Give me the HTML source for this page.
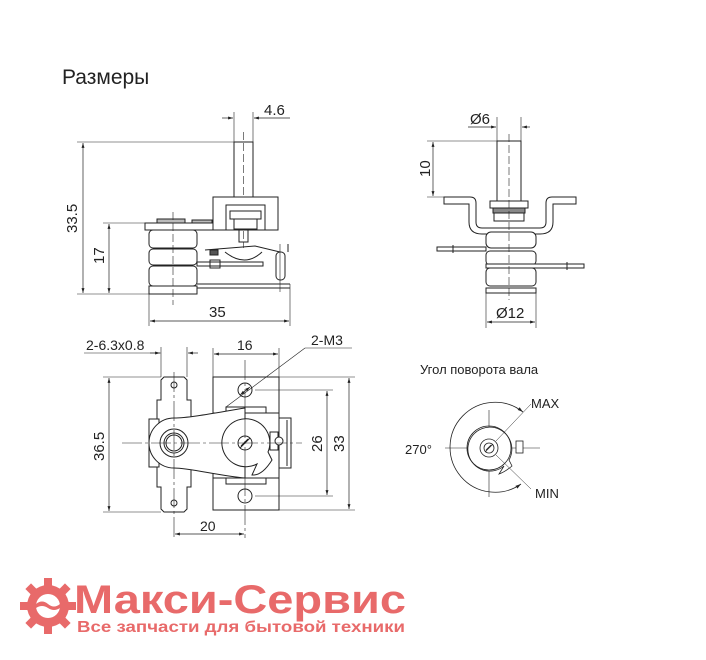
<!DOCTYPE html>
<html><head><meta charset="utf-8"><style>
body{margin:0;background:#fff;width:706px;height:660px;overflow:hidden}
svg{display:block}
text{font-family:"Liberation Sans",Arial,sans-serif;fill:#222}
</style></head><body>
<svg width="706" height="660" viewBox="0 0 706 660" xmlns="http://www.w3.org/2000/svg">
<defs>
<marker id="a" viewBox="0 0 10 10" refX="10" refY="5" markerWidth="7" markerHeight="7" orient="auto-start-reverse"><path d="M0,2L10,5L0,8z" fill="#222"/></marker>
</defs>
<text x="62" y="84" font-size="21">Размеры</text>

<!-- TOP LEFT VIEW -->
<g stroke="#222" fill="none" stroke-width="1">
<!-- dims -->
<line x1="77" y1="142" x2="234" y2="142" stroke-width=".6"/>
<line x1="77" y1="294" x2="149" y2="294" stroke-width=".6"/>
<line x1="83" y1="143" x2="83" y2="293" marker-start="url(#a)" marker-end="url(#a)" stroke-width=".7"/>
<line x1="103" y1="223" x2="145" y2="223" stroke-width=".6"/>
<line x1="109" y1="224" x2="109" y2="293" marker-start="url(#a)" marker-end="url(#a)" stroke-width=".7"/>
<line x1="234" y1="112" x2="234" y2="142" stroke-width=".6"/>
<line x1="253" y1="112" x2="253" y2="142" stroke-width=".6"/>
<line x1="222" y1="118" x2="233" y2="118" marker-end="url(#a)" stroke-width=".7"/>
<line x1="290" y1="118" x2="254" y2="118" marker-end="url(#a)" stroke-width=".7"/>
<line x1="149" y1="294" x2="149" y2="326" stroke-width=".6"/>
<line x1="290" y1="284" x2="290" y2="326" stroke-width=".6"/>
<line x1="150" y1="321" x2="289" y2="321" marker-start="url(#a)" marker-end="url(#a)" stroke-width=".7"/>
<!-- shaft -->
<rect x="234" y="142" width="19" height="55" fill="#fff"/>
<line x1="243.5" y1="132" x2="243.5" y2="248" stroke-dasharray="8,3" stroke-width=".6"/>
<!-- bracket -->
<rect x="213" y="197" width="65" height="33" fill="#fff"/>
<rect x="226" y="205" width="39" height="25"/>
<rect x="230" y="211" width="31" height="8"/>
<rect x="234" y="219" width="23" height="10"/>
<rect x="239" y="230" width="9" height="12"/>
<!-- plate -->
<rect x="145" y="223" width="68" height="7" fill="#fff"/>
<rect x="157" y="219" width="28" height="4" fill="#bbb"/>
<rect x="192" y="220" width="20" height="3" fill="#bbb"/>
<!-- coils -->
<rect x="149" y="230" width="48" height="18" rx="4"/>
<rect x="149" y="249" width="48" height="16" rx="4"/>
<rect x="149" y="266" width="48" height="20" rx="4"/>
<rect x="149" y="286" width="48" height="8"/>
<line x1="173" y1="212" x2="173" y2="305" stroke-dasharray="8,3" stroke-width=".6"/>
<!-- internals -->
<rect x="197" y="262" width="66" height="4"/>
<rect x="210" y="260" width="10" height="8"/>
<line x1="197" y1="284" x2="290" y2="284"/>
<line x1="197" y1="288" x2="290" y2="288"/>
<path d="M205,250 L255,246 L280,252"/>
<path d="M225,252 Q245,268 262,252"/>
<rect x="210" y="250" width="8" height="5" fill="#555"/>
<rect x="276" y="252" width="9" height="28" rx="4"/>
<line x1="280" y1="244" x2="280" y2="292" stroke-width=".6"/>
<line x1="288" y1="244" x2="288" y2="252"/>
</g>
<text x="0" y="0" font-size="15" transform="translate(77,233) rotate(-90)">33.5</text>
<text x="0" y="0" font-size="15" transform="translate(104,264) rotate(-90)">17</text>
<text x="264" y="115" font-size="15">4.6</text>
<text x="209" y="317" font-size="15">35</text>

<!-- TOP RIGHT VIEW -->
<g stroke="#222" fill="none" stroke-width="1">
<line x1="497" y1="117" x2="497" y2="141" stroke-width=".6"/>
<line x1="521" y1="117" x2="521" y2="141" stroke-width=".6"/>
<line x1="468" y1="127" x2="496" y2="127" marker-end="url(#a)" stroke-width=".7"/>
<line x1="530" y1="127" x2="522" y2="127" marker-end="url(#a)" stroke-width=".7"/>
<line x1="427" y1="141" x2="497" y2="141" stroke-width=".6"/>
<line x1="427" y1="197" x2="444" y2="197" stroke-width=".6"/>
<line x1="433" y1="142" x2="433" y2="196" marker-start="url(#a)" marker-end="url(#a)" stroke-width=".7"/>
<rect x="497" y="141" width="24" height="60" fill="#fff"/>
<path d="M444,197 H470 Q476,197 476,203 V222 Q476,228 482,228 H540 Q546,228 546,222 V203 Q546,197 552,197 H576 V204 H553 V222 Q553,234 540,234 H482 Q469,234 469,222 V204 H444 Z" fill="#fff"/>
<rect x="490" y="201" width="38" height="7" fill="#fff"/>
<rect x="493" y="208" width="32" height="5" fill="#888"/>
<rect x="494" y="213" width="30" height="8"/>
<rect x="486" y="232" width="50" height="16" rx="5" fill="#fff"/>
<rect x="486" y="251" width="50" height="14" rx="4" fill="#fff"/>
<rect x="486" y="268" width="50" height="18" rx="4" fill="#fff"/>
<rect x="486" y="288" width="50" height="5" fill="#fff"/>
<rect x="437" y="247" width="49" height="4" fill="#fff"/>
<line x1="453" y1="245" x2="453" y2="253"/>
<rect x="486" y="264" width="98" height="4" fill="#fff"/>
<line x1="567" y1="262" x2="567" y2="270"/>
<line x1="509" y1="134" x2="509" y2="300" stroke-dasharray="8,3" stroke-width=".6"/>
<line x1="486" y1="293" x2="486" y2="328" stroke-width=".6"/>
<line x1="536" y1="293" x2="536" y2="328" stroke-width=".6"/>
<line x1="487" y1="322" x2="535" y2="322" marker-start="url(#a)" marker-end="url(#a)" stroke-width=".7"/>
</g>
<text x="470" y="124" font-size="15">Ø6</text>
<text x="0" y="0" font-size="15" transform="translate(430,177) rotate(-90)">10</text>
<text x="496" y="318" font-size="15">Ø12</text>

<!-- BOTTOM LEFT VIEW -->
<g stroke="#222" fill="none" stroke-width="1">
<line x1="84" y1="353" x2="161" y2="353" stroke-width=".6"/>
<line x1="161" y1="347" x2="161" y2="377" stroke-width=".6"/>
<line x1="187" y1="347" x2="187" y2="377" stroke-width=".6"/>
<line x1="150" y1="353" x2="160" y2="353" marker-end="url(#a)" stroke-width=".7"/>
<line x1="198" y1="353" x2="188" y2="353" marker-end="url(#a)" stroke-width=".7"/>
<path d="M164,377 H184 L187,380 V400 H191 V487 H187 V509 L184,512 H164 L161,509 V487 H157 V400 H161 V380 Z" fill="#fff"/>
<rect x="149" y="419" width="10" height="48" fill="#fff"/>
<circle cx="174" cy="385" r="3"/>
<circle cx="174" cy="503" r="3"/>
<rect x="213" y="377" width="66" height="133" fill="#fff"/>
<rect x="226" y="407" width="40" height="6"/>
<rect x="226" y="478" width="40" height="6"/>
<line x1="213" y1="413" x2="279" y2="413"/>
<line x1="213" y1="478" x2="279" y2="478"/>
<rect x="279" y="418" width="12" height="50" fill="#fff"/>
<line x1="287" y1="420" x2="287" y2="466"/>
<circle cx="245" cy="390" r="7" fill="#fff"/>
<circle cx="245" cy="496" r="7" fill="#fff"/>
<path d="M174,418 C190,418 220,412 245,408 L245,478 C220,476 190,468 174,468 A25,25 0 0 1 174,418 Z" fill="#fff"/>
<circle cx="174" cy="443" r="14"/>
<circle cx="174" cy="443" r="10"/>
<circle cx="174" cy="443" r="8"/>
<path d="M257,464 A24,24 0 1 1 268,452 L272,460 Q262,476 252,475 Z" fill="#fff"/>
<rect x="270" y="432" width="8" height="18" fill="#fff"/>
<circle cx="279" cy="441" r="4" fill="#fff"/>
<circle cx="245" cy="443" r="7"/>
<line x1="240" y1="448" x2="250" y2="438"/>
<line x1="241" y1="446" x2="248" y2="439"/>
<line x1="122" y1="443" x2="302" y2="443" stroke-width=".6" stroke-dasharray="20,3,3,3"/>
<line x1="174" y1="372" x2="174" y2="538" stroke-width=".6" stroke-dasharray="20,3,3,3"/>
<line x1="245" y1="360" x2="245" y2="538" stroke-width=".6" stroke-dasharray="20,3,3,3"/>
<line x1="213" y1="348" x2="213" y2="377" stroke-width=".6"/>
<line x1="279" y1="348" x2="279" y2="377" stroke-width=".6"/>
<line x1="214" y1="354" x2="278" y2="354" marker-start="url(#a)" marker-end="url(#a)" stroke-width=".7"/>
<line x1="305" y1="348" x2="352" y2="348" stroke-width=".6"/>
<line x1="305" y1="348" x2="226" y2="407" stroke-width=".6"/>
<line x1="250" y1="387" x2="240" y2="395" marker-start="url(#a)" marker-end="url(#a)" stroke-width=".7"/>
<line x1="103" y1="377" x2="161" y2="377" stroke-width=".6"/>
<line x1="103" y1="512" x2="161" y2="512" stroke-width=".6"/>
<line x1="109" y1="378" x2="109" y2="511" marker-start="url(#a)" marker-end="url(#a)" stroke-width=".7"/>
<line x1="255" y1="390" x2="333" y2="390" stroke-width=".6"/>
<line x1="255" y1="496" x2="333" y2="496" stroke-width=".6"/>
<line x1="327" y1="391" x2="327" y2="495" marker-start="url(#a)" marker-end="url(#a)" stroke-width=".7"/>
<line x1="279" y1="377" x2="355" y2="377" stroke-width=".6"/>
<line x1="279" y1="510" x2="355" y2="510" stroke-width=".6"/>
<line x1="349" y1="378" x2="349" y2="509" marker-start="url(#a)" marker-end="url(#a)" stroke-width=".7"/>
<line x1="175" y1="534" x2="244" y2="534" marker-start="url(#a)" marker-end="url(#a)" stroke-width=".7"/>
</g>
<text x="86" y="350" font-size="14">2-6.3x0.8</text>
<text x="237" y="350" font-size="14">16</text>
<text x="311" y="345" font-size="14">2-M3</text>
<text x="0" y="0" font-size="15" transform="translate(104,461) rotate(-90)">36.5</text>
<text x="0" y="0" font-size="15" transform="translate(322,452) rotate(-90)">26</text>
<text x="0" y="0" font-size="15" transform="translate(344,452) rotate(-90)">33</text>
<text x="200" y="531" font-size="14">20</text>

<!-- BOTTOM RIGHT -->
<text x="420" y="374" font-size="13">Угол поворота вала</text>
<g stroke="#222" fill="none" stroke-width=".8">
<path d="M523,412 A45,45 0 1 0 521,484" marker-start="url(#a)" marker-end="url(#a)"/>
<line x1="445" y1="448" x2="540" y2="448" stroke-width=".6"/>
<line x1="489" y1="410" x2="489" y2="497" stroke-width=".6"/>
<path d="M504,466 A22,22 0 1 1 509,460 L512,466 Q505,472 499,474 Z" fill="#fff"/>
<circle cx="489" cy="448" r="22"/>
<circle cx="489" cy="448" r="9"/>
<circle cx="489" cy="448" r="5"/>
<line x1="485" y1="452" x2="493" y2="444"/>
<line x1="486" y1="450" x2="491" y2="445"/>
<rect x="516" y="441" width="7" height="12" fill="#fff"/>
<line x1="496" y1="441" x2="531" y2="404" stroke-width=".5"/>
<line x1="496" y1="455" x2="531" y2="489" stroke-width=".5"/>
</g>
<text x="531" y="408" font-size="13">MAX</text>
<text x="535" y="498" font-size="13">MIN</text>
<text x="405" y="454" font-size="13">270°</text>

<!-- LOGO -->
<g fill="#e86a6a">
<circle cx="48" cy="606" r="21"/>
<g transform="translate(48,606)">
<rect x="-4" y="-28" width="8" height="10"/><rect x="-4" y="18" width="8" height="10"/>
<rect x="-28" y="-4" width="10" height="8"/><rect x="18" y="-4" width="10" height="8"/>
<rect x="-4" y="-28" width="8" height="10" transform="rotate(45)"/><rect x="-4" y="-28" width="8" height="10" transform="rotate(135)"/>
<rect x="-4" y="-28" width="8" height="10" transform="rotate(225)"/><rect x="-4" y="-28" width="8" height="10" transform="rotate(315)"/>
</g>
<circle cx="48" cy="606" r="12" fill="#fff"/>
<path d="M36,604 q6,-5 12,0 t12,0 q6,-4 12,0 v4 q-6,-4 -12,0 t-12,0 t-12,0z" fill="#e86a6a"/>
</g>
<text x="74" y="613" font-size="40" font-weight="bold" style="fill:#e86a6a" textLength="332" lengthAdjust="spacingAndGlyphs">Макси-Сервис</text>
<text x="77" y="632" font-size="16" font-weight="bold" style="fill:#e86a6a" textLength="328" lengthAdjust="spacingAndGlyphs">Все запчасти для бытовой техники</text>
</svg>
</body></html>
